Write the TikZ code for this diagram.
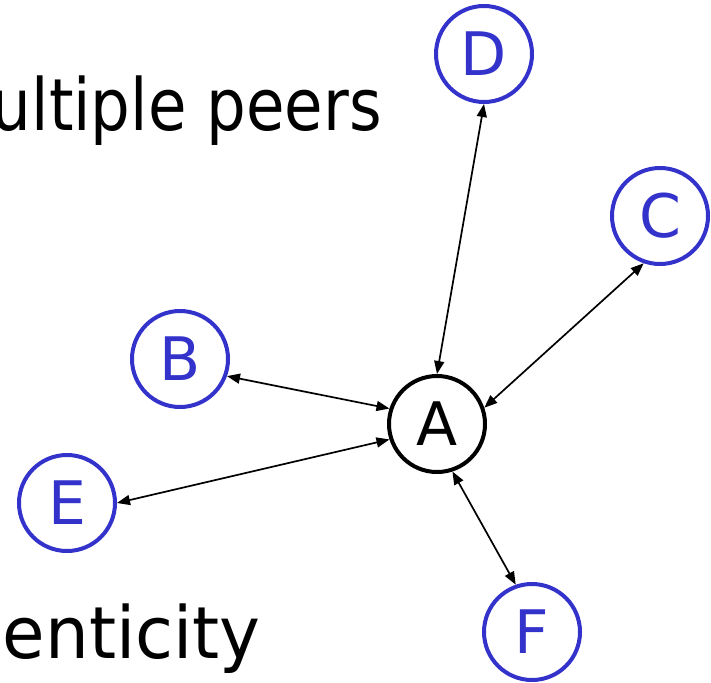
\documentclass[tikz,border=0pt]{standalone}
\usepackage{fontspec}
\setmainfont{DejaVu Sans}
\usetikzlibrary{arrows.meta}
\definecolor{peerblue}{RGB}{51,51,204}
\begin{document}
\begin{tikzpicture}[x=1pt,y=-1pt,
  peer/.style={circle, draw=peerblue, text=peerblue, line width=4pt,
    minimum size=96pt, inner sep=0pt, font=\fontsize{60}{60}\selectfont},
  hub/.style={peer, draw=black, text=black},
  link/.style={line width=1.7pt,
    {Triangle[length=13pt,width=10pt]}-{Triangle[length=13pt,width=10pt]}},
  caption/.style={anchor=base east, inner sep=0pt,
    font=\fontsize{72}{72}\selectfont}]
\useasboundingbox (0,0) rectangle (711,682);

% slide text, cut off at the left edge
\node[caption] (t1) at (382,130) {\scalebox{0.87}[1]{ultiple peers}};
\node[caption] (t2) at (261,658) {\scalebox{0.96}[1]{enticity}};

% peers
\node[hub]  (A) at (437,424) {A};
\node[peer] (D) at (484,54)  {D};
\node[peer] (C) at (660,216) {C};
\node[peer] (B) at (180,359) {B};
\node[peer] (E) at (67,503)  {E};
\node[peer] (F) at (532,632) {F};

% two-way links to A
\draw[link] (D.south) -- (A.north);
\draw[link] (C.251)   -- (A.19);
\draw[link] (B.-20)   -- (A.162);
\draw[link] (E.east)  -- (A.198);
\draw[link] (F.109)   -- (A.-72);
\end{tikzpicture}
\end{document}
